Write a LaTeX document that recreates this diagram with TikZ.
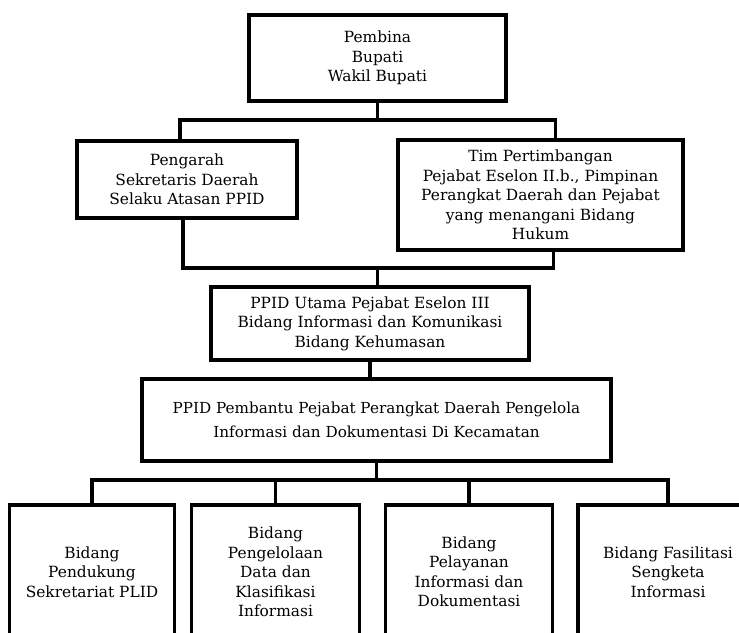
\documentclass[tikz,border=0pt]{standalone}
\usepackage{fontspec}
\setmainfont{DejaVu Serif}
\usetikzlibrary{positioning,calc}

\begin{document}
\begin{tikzpicture}[x=1pt, y=-1pt,
  orgbox/.style={draw, line width=3.5pt, align=center, inner sep=2pt,
    font=\fontsize{15.4}{19.5}\selectfont},
  link/.style={line width=3.5pt}]
\useasboundingbox (0,0) rectangle (739,632);
\clip (0,0) rectangle (739,632);
\fill[white] (0,0) rectangle (739,632);

% ----------------- First row -----------------
\node (box1) [orgbox, minimum width=257pt, minimum height=86pt] at (377.5,58) {Pembina\\Bupati\\Wakil Bupati};

% ----------------- Second row -----------------
\node (box2) [orgbox, minimum width=220pt, minimum height=77pt] at (187,179.5) {Pengarah\\Sekretaris Daerah\\Selaku Atasan PPID};
\node (box3) [orgbox, minimum width=285pt, minimum height=110pt] at (540.5,195) {Tim Pertimbangan\\Pejabat Eselon II.b., Pimpinan\\Perangkat Daerah dan Pejabat\\yang menangani Bidang\\Hukum};

% ----------------- row 3 -----------------
\node (box4) [orgbox, minimum width=318pt, minimum height=73pt] at (370,323.5) {PPID Utama Pejabat Eselon III\\Bidang Informasi dan Komunikasi\\Bidang Kehumasan};

% ----------------- row 4 -----------------
\node (box5) [orgbox, minimum width=469pt, minimum height=82pt, font=\fontsize{15.2}{24}\selectfont] at (376.5,420) {PPID Pembantu Pejabat Perangkat Daerah Pengelola\\Informasi dan Dokumentasi Di Kecamatan};

% ----------------- row 5 (open at the bottom) -----------------
\node (box6) [orgbox, minimum width=165pt, minimum height=134pt] at (92,572) {Bidang\\Pendukung\\Sekretariat PLID};
\node (box7) [orgbox, minimum width=168pt, minimum height=134pt] at (275.5,572) {Bidang\\Pengelolaan\\Data dan\\Klasifikasi\\Informasi};
\node (box8) [orgbox, minimum width=167pt, minimum height=134pt] at (469,572) {Bidang\\Pelayanan\\Informasi dan\\Dokumentasi};
\node (box9) [orgbox, minimum width=180pt, minimum height=134pt] at (668,572) {Bidang Fasilitasi\\Sengketa\\Informasi};

% ----------------- Lines -----------------
\coordinate (busA) at ([yshift=-17pt]box1.south);
\draw[link] (box1.south) -- (busA);
\draw[link] ([xshift=-7pt]box2.north) |- (busA) -| ([xshift=15pt]box3.north);

\coordinate (busB) at ([yshift=-48pt]box2.south -| box1.south);
\draw[link] ([xshift=-4pt]box2.south) |- (busB) -| ([xshift=13pt]box3.south);
\draw[link] (busB) -- (busB |- box4.north);

\draw[link] (box4.south) -- (box4.south |- box5.north);

\coordinate (busC) at ([yshift=-17pt]box5.south);
\draw[link] (box5.south) -- (busC);
\draw[link] (box6.north) |- (busC) -| (box9.north);
\foreach \b in {box7,box8}
  \draw[link] (\b.north) -- (\b.north |- busC);

\end{tikzpicture}
\end{document}
